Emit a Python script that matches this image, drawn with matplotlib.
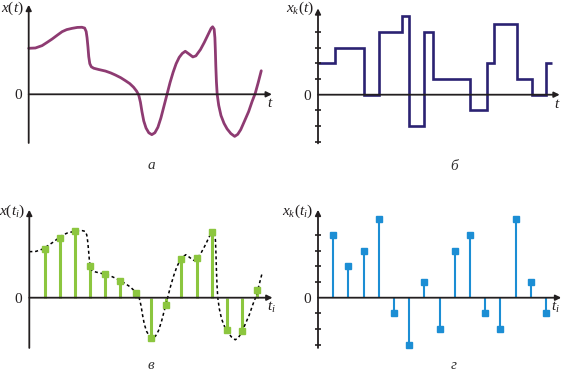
import matplotlib
matplotlib.use("Agg")
import matplotlib.pyplot as plt

curve_t = [0, 0.44, 0.88, 1.2, 1.54, 1.9, 2.2, 2.5, 2.85, 3.2, 3.5, 3.68, 3.78, 3.84,
           3.9, 3.95, 4.02, 4.12, 4.28, 4.6, 5.05, 5.4, 5.7, 6.05, 6.36, 6.65, 6.9,
           7.1, 7.24, 7.35, 7.45, 7.57, 7.72, 7.9, 8.1, 8.3, 8.5, 8.7, 8.9, 9.1, 9.3,
           9.5, 9.7, 9.9, 10.1, 10.3, 10.5, 10.8, 11.0, 11.3, 11.55, 11.8, 12.0, 12.1,
           12.2, 12.25, 12.28, 12.31, 12.35, 12.4, 12.5, 12.65, 12.85, 13.05, 13.3,
           13.55, 13.75, 13.95, 14.2, 14.47, 14.7, 14.9, 15.1, 15.3]
curve_x = [2.93, 2.95, 3.10, 3.3, 3.52, 3.78, 3.99, 4.12, 4.2, 4.26, 4.27, 4.22, 4.0, 3.6,
           3.0, 2.4, 1.95, 1.75, 1.66, 1.58, 1.48, 1.36, 1.23, 1.06, 0.87, 0.68, 0.45,
           0.2, -0.05, -0.5, -1.1, -1.7, -2.15, -2.45, -2.57, -2.45, -2.1, -1.5, -0.75,
           0.0, 0.75, 1.4, 1.95, 2.35, 2.6, 2.74, 2.6, 2.38, 2.45, 2.85, 3.3, 3.8, 4.2,
           4.3, 4.15, 3.6, 2.8, 1.8, 0.8, 0.0, -0.7, -1.35, -1.85, -2.2, -2.5, -2.68,
           -2.55, -2.25, -1.7, -1.1, -0.45, 0.05, 0.75, 1.5]

# quantized signal x_k(t), panel "б"
step_edges = [0, 1.1, 3.05, 4, 5.55, 6, 7, 7.55, 10, 11.1, 11.6, 13.1, 14.05, 15, 15.4]
step_levels = [2, 3, 0, 4, 5, -2, 4, 1, -1, 2, 4.5, 1, 0, 2]

# samples x(t_i), panel "в"
samp_t = list(range(1, 16))
samp_x = [3.12, 3.78, 4.25, 2.02, 1.51, 1.06, 0.28, -2.55, -0.47, 2.48, 2.53, 4.2,
          -2.06, -2.12, 0.49]

# quantized samples x_k(t_i), panel "г"
quant_x = [4, 2, 3, 5, -1, -3, 1, -2, 3, 4, -1, -2, 5, 1, -1]

level_ticks = [-3, -2, -1, 1, 2, 3, 4]

plt.rcParams['font.family'] = ['Liberation Serif', 'DejaVu Serif']
plt.rcParams['mathtext.fontset'] = 'custom'
plt.rcParams['mathtext.it'] = 'Liberation Serif:italic'
plt.rcParams['mathtext.rm'] = 'Liberation Serif'

W, H = 562, 372
SX, SY = 15.2, 15.7  # pixels per unit
fig = plt.figure(figsize=(W / 100, H / 100), dpi=100)

AXC = '#231f20'


def make_ax(ox, oy):
    x0, x1, y0, y1 = -2, 17, -5, 6.5
    left = (ox + x0 * SX) / W
    bottom = 1 - (oy - y0 * SY) / H
    ax = fig.add_axes([left, bottom, (x1 - x0) * SX / W, (y1 - y0) * SY / H])
    ax.set_xlim(x0, x1)
    ax.set_ylim(y0, y1)
    ax.axis('off')
    return ax


def draw_axes(ax, ybot, ytop, xtip, ylab, xlab, cap, cap_xy, ticks=False,
              xlab_x=15.65):
    arr = dict(arrowstyle='-|>', lw=1.3, color=AXC, mutation_scale=8,
               shrinkA=0, shrinkB=0)
    ax.annotate('', xy=(0, ytop), xytext=(0, ybot), arrowprops=arr, zorder=5)
    ax.annotate('', xy=(xtip, 0), xytext=(0, 0), arrowprops=arr, zorder=5)
    if ticks:
        ax.plot([0] * len(level_ticks), level_ticks, ls='none', marker='_',
                ms=5, mew=1.2, color=AXC, zorder=5)
    ax.text(-0.3, 5.5, ylab, ha='right', va='center', fontsize=11, color=AXC)
    ax.text(-0.72, -0.1, '0', ha='center', va='center', fontsize=11, color=AXC)
    ax.text(xlab_x, -0.6, xlab, ha='left', va='center', fontsize=11, color=AXC)
    ax.text(cap_xy[0], cap_xy[1], cap, ha='center', va='center', fontsize=11,
            style='italic', color='#333333')


# а
ax = make_ax(28.7, 94.3)
ax.plot(curve_t, curve_x, color='#8e3b72', lw=2.0, solid_capstyle='round')
draw_axes(ax, -3.1, 5.7, 16.0, r'$x(t)$', r'$t$', 'а', (8.1, -4.55))

# б
ax = make_ax(318, 94.7)
ax.stairs(step_levels, step_edges, color='#2b2272', lw=1.9, baseline=None)
draw_axes(ax, -3.1, 5.5, 15.9, r'$x_k(t)$', r'$t$', 'б', (8.97, -4.55),
          ticks=True, xlab_x=15.5)

# в
ax = make_ax(29.3, 297.7)
ax.plot(curve_t, curve_x, color='black', lw=1.1, ls=(0, (2, 1.8)), zorder=3)
ax.vlines(samp_t, 0, samp_x, color='#8cc63f', lw=2.2, zorder=2)
ax.plot(samp_t, samp_x, 's', color='#8cc63f', ms=3.8, zorder=4)
draw_axes(ax, -3.2, 5.6, 16.0, r'$x(t_i)$', r'$t_i$', 'в', (7.99, -4.3))

# г
ax = make_ax(318, 297.7)
ax.vlines(samp_t, 0, quant_x, color='#1c8ed4', lw=1.5, zorder=2)
ax.plot(samp_t, quant_x, 's', color='#1c8ed4', ms=4, zorder=4)
draw_axes(ax, -3.2, 5.6, 16.0, r'$x_k(t_i)$', r'$t_i$', 'г', (8.9, -4.3),
          ticks=True, xlab_x=15.35)

fig.savefig('out.png', dpi=100)
